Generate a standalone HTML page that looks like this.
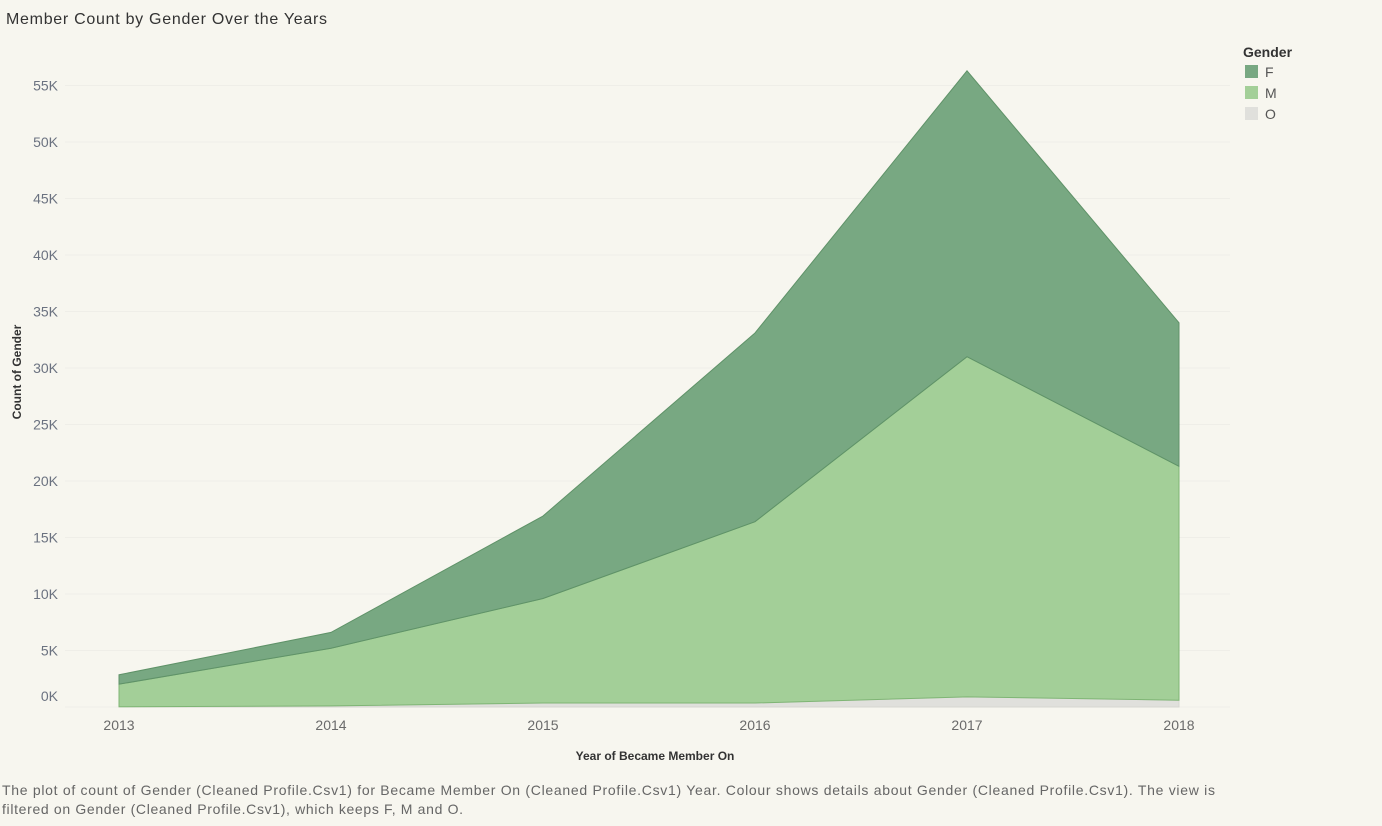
<!DOCTYPE html>
<html><head><meta charset="utf-8"><style>
body{margin:0;background:#f7f6ef;font-family:"Liberation Sans",sans-serif;}
svg text{font-family:"Liberation Sans",sans-serif;}
</style></head><body>
<svg width="1382" height="821" xmlns="http://www.w3.org/2000/svg">
<rect width="1382" height="821" fill="#f7f6ef"/>
<text x="6" y="24" font-size="16" fill="#333" textLength="321">Member Count by Gender Over the Years</text>
<g id="grid"></g><g id="areas"></g><g id="yt"></g><g id="xt"></g>
<text transform="translate(21,372) rotate(-90)" text-anchor="middle" font-size="12" font-weight="bold" fill="#333">Count of Gender</text>
<text x="655" y="760" text-anchor="middle" font-size="12" font-weight="bold" fill="#333">Year of Became Member On</text>
<g>
<text x="1243" y="57" font-size="14" font-weight="bold" fill="#333">Gender</text>
<rect x="1245" y="65" width="13" height="13" fill="#78a882"/>
<text x="1265" y="77" font-size="14" fill="#555">F</text>
<rect x="1245" y="86" width="13" height="13" fill="#a3cf98"/>
<text x="1265" y="98" font-size="14" fill="#555">M</text>
<rect x="1245" y="107" width="13" height="13" fill="#e0e0dc"/>
<text x="1265" y="119" font-size="14" fill="#555">O</text>
</g>
<text x="2" y="795" font-size="14" fill="#666" textLength="1213">The plot of count of Gender (Cleaned Profile.Csv1) for Became Member On (Cleaned Profile.Csv1) Year.  Colour shows details about Gender (Cleaned Profile.Csv1). The view is</text>
<text x="2" y="814" font-size="14" fill="#666" textLength="461">filtered on Gender (Cleaned Profile.Csv1), which keeps F, M and O.</text>
</svg>
<script>
const years=["2013","2014","2015","2016","2017","2018"];
const valsO=[0.02,0.1,0.35,0.35,0.9,0.6];
const valsM=[2.0,5.1,9.25,16.05,30.1,20.7];
const valsF=[0.83,1.4,7.3,16.7,25.3,12.7];
const yTicks=[0,5,10,15,20,25,30,35,40,45,50,55];
const NS="http://www.w3.org/2000/svg";
const x=i=>119+i*212;
const y=v=>707-v*11.3;
function mk(t,a,p){const e=document.createElementNS(NS,t);for(const k in a)e.setAttribute(k,a[k]);document.getElementById(p).appendChild(e);return e;}
yTicks.forEach(t=>{
 const g=mk('line',{x1:65,x2:1230,y1:y(t),y2:y(t),stroke:'#efeee8','stroke-width':1},'grid');
 
 
 const tx=mk('text',{x:58,y:t===0?701:y(t)+5,'text-anchor':'end','font-size':14,fill:'#6b7280'},'yt');
 tx.textContent=t+'K';
 
 
});
years.forEach((yr,i)=>{
 const tx=mk('text',{x:x(i),y:730,'text-anchor':'middle','font-size':14,fill:'#6a6a6a'},'xt');
 tx.textContent=yr;
 
 
});
const series=[[valsO,'#e0e0dc','#d6d6d0','area-o'],[valsM,'#a3cf98','#7fb575','area-m'],[valsF,'#78a882','#5f9268','area-f']];
let base=years.map(()=>0);
series.forEach(([v,fill,stroke,name])=>{
 const top=base.map((b,i)=>b+v[i]);
 let d='M'+years.map((_,i)=>x(i)+','+y(top[i])).join('L');
 for(let i=years.length-1;i>=0;i--)d+='L'+x(i)+','+y(base[i]);
 const p=mk('path',{d:d+'Z',fill:fill,stroke:stroke,'stroke-width':1},'areas');
 
 
 base=top;
});
</script>
</body></html>
